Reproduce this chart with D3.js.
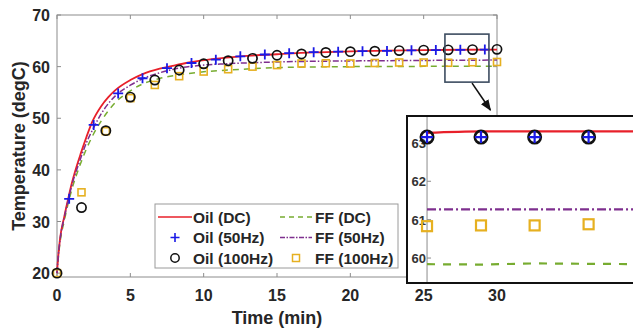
<!DOCTYPE html>
<html><head><meta charset="utf-8">
<script src="https://cdn.jsdelivr.net/npm/d3@7"></script>
<style>
html,body{margin:0;padding:0;background:#fff;}
svg{display:block;font-family:"Liberation Sans",Arial,sans-serif;}
</style></head>
<body><svg id="c" width="633" height="329"></svg>
<script>
// ---------- data ----------
const xTicks = [0, 5, 10, 15, 20, 25, 30];
const yTicks = [20, 30, 40, 50, 60, 70];

const tOilDC = [0,0.05,0.2,0.5,0.77,1.0,1.34,1.6,2.0,2.4,3.0,3.5,4.0,5.0,5.8,7.0,7.8,9.0,10.7,12.5,15,17.5,20,22.5,25,27.5,30];
const oilDC  = [20,22,26.5,31,34.5,37.3,40.7,43.0,46.3,49.3,52.3,54.1,55.5,57.4,58.5,59.6,60.1,60.8,61.5,62.0,62.4,62.75,62.95,63.1,63.2,63.27,63.3];

const tFF50 = [0,0.05,0.2,0.5,0.77,1.0,1.5,2.0,2.5,3.0,4.0,5.0,5.8,7,8.3,10,11.5,13.2,15,16.6,20,25,30];
const ff50  = [20,22,26.3,30.8,34.2,36.9,41.3,45.2,48.2,50.8,54.4,56.4,57.6,58.8,59.7,60.3,60.55,60.75,60.9,61.0,61.1,61.2,61.27];

const tFFDC = [0,0.05,0.2,0.5,0.77,1,1.5,2,2.5,3,4,5,5.8,7,8.3,10,12.4,15.6,20,25,30];
const ffDC  = [20,21.8,25.8,30.2,33.6,36.1,40.4,44.0,47.0,49.4,53.1,55.3,56.6,57.7,58.4,59.0,59.45,59.85,60.0,60.05,60.1];

const tCircle = [0,1.67,3.33,5,6.67,8.33,10,11.67,13.33,15,16.67,18.33,20,21.67,23.33,25,26.67,28.33,30];
const oil100  = [20,32.7,47.6,54.1,57.4,59.35,60.55,61.15,61.6,62.2,62.45,62.75,62.9,63.0,63.1,63.2,63.25,63.3,63.35];
const ff100   = [20,35.65,47.5,53.9,56.45,58.15,59.05,59.5,60.0,60.3,60.6,60.65,60.6,60.7,60.8,60.8,60.75,60.85,60.9];

const tPlus = [0.83,2.5,4.17,5.83,7.5,9.17,10.83,12.5,14.17,15.83,17.5,19.17,20.83,22.5,24.17,25.83,27.5,29.17];
const oil50 = [34.4,48.7,54.8,57.75,59.7,60.7,61.35,62.0,62.35,62.6,62.8,62.9,63.0,63.05,63.15,63.2,63.25,63.3];

// zoom box (data units) and arrow
const zoomBoxT = [26.45, 29.45];
const zoomBoxY = [57.0, 66.3];
const arrowT = [28.3, 29.55];
const arrowY = [56.8, 51.6];

// inset data
const insetYTicks = [60, 61, 62, 63];
const insetLineT = [25, 26.67, 28.33, 30, 31.67, 33.33];
const insetOilDC = [63.26, 63.3, 63.3, 63.3, 63.3, 63.3];
const insetFF50  = [61.27, 61.27, 61.27, 61.27, 61.27, 61.27];
const insetFFDC  = [59.84, 59.83, 59.86, 59.85, 59.84, 59.85];
const insetMarkT = [25, 26.67, 28.33, 30];
const insetOil100 = [63.15, 63.15, 63.15, 63.15];
const insetOil50  = [63.15, 63.15, 63.15, 63.15];
const insetFF100  = [60.83, 60.85, 60.85, 60.88];

const legendItems = [
  {label:"Oil (DC)", type:"line", color:"#e8202a", dash:null},
  {label:"Oil (50Hz)", type:"plus", color:"#1a1ae6"},
  {label:"Oil (100Hz)", type:"circle", color:"#111"},
  {label:"FF (DC)", type:"line", color:"#77ac30", dash:"5,4"},
  {label:"FF (50Hz)", type:"line", color:"#7e2f8e", dash:"5,1.5,1.5,1.5"},
  {label:"FF (100Hz)", type:"square", color:"#e6b020"}
];

// ---------- drawing ----------
const C = {red:"#e8202a", blue:"#1a1ae6", green:"#77ac30", purple:"#7e2f8e", gold:"#e6b020", axis:"#8c8c8c", text:"#262626"};
const svg = d3.select("#c");
const L = 57, R = 497, T = 15, B = 277;
const x = d3.scaleLinear().domain([0, 30]).range([L, R]);
const y = d3.scaleLinear().domain([19.25, 70]).range([B, T]);

const zip = (a, b) => a.map((v, i) => [v, b[i]]);
const line = (sx, sy) => d3.line().x(d => sx(d[0])).y(d => sy(d[1])).curve(d3.curveMonotoneX);

// axes box
const ax = svg.append("g");
ax.append("rect").attr("x", L).attr("y", T).attr("width", R - L).attr("height", B - T)
  .attr("fill", "none").attr("stroke", C.axis).attr("stroke-width", 1);
xTicks.forEach(t => {
  ax.append("line").attr("x1", x(t)).attr("x2", x(t)).attr("y1", B).attr("y2", B - 4).attr("stroke", C.axis);
  ax.append("line").attr("x1", x(t)).attr("x2", x(t)).attr("y1", T).attr("y2", T + 4).attr("stroke", C.axis);
  ax.append("text").attr("x", x(t)).attr("y", 301).attr("text-anchor", "middle")
    .attr("font-size", 16).attr("font-weight", "bold").attr("fill", C.text).text(t);
});
yTicks.forEach(v => {
  ax.append("line").attr("x1", L).attr("x2", L + 4).attr("y1", y(v)).attr("y2", y(v)).attr("stroke", C.axis);
  ax.append("line").attr("x1", R).attr("x2", R - 4).attr("y1", y(v)).attr("y2", y(v)).attr("stroke", C.axis);
  ax.append("text").attr("x", 50).attr("y", y(v) + 6).attr("text-anchor", "end")
    .attr("font-size", 16).attr("font-weight", "bold").attr("fill", C.text).text(v);
});
svg.append("text").attr("x", 277).attr("y", 324).attr("text-anchor", "middle")
  .attr("font-size", 18).attr("font-weight", "bold").attr("fill", C.text).text("Time (min)");
svg.append("text").attr("transform", "translate(25,146) rotate(-90)").attr("text-anchor", "middle")
  .attr("font-size", 18).attr("font-weight", "bold").attr("fill", C.text).text("Temperature (degC)");

// lines
const pg = svg.append("g");
pg.append("path").attr("d", line(x, y)(zip(tFFDC, ffDC))).attr("fill", "none").attr("stroke", C.green).attr("stroke-width", 1.5).attr("stroke-dasharray", "6,5");
pg.append("path").attr("d", line(x, y)(zip(tOilDC, oilDC))).attr("fill", "none").attr("stroke", C.red).attr("stroke-width", 1.8);
pg.append("path").attr("d", line(x, y)(zip(tFF50, ff50))).attr("fill", "none").attr("stroke", C.purple).attr("stroke-width", 1.5).attr("stroke-dasharray", "6,2,1.5,2");

// markers
function square(g, cx, cy, s, col, w) {
  g.append("rect").attr("x", cx - s / 2).attr("y", cy - s / 2).attr("width", s).attr("height", s)
    .attr("fill", "none").attr("stroke", col).attr("stroke-width", w);
}
function circle(g, cx, cy, r, col, w) {
  g.append("circle").attr("cx", cx).attr("cy", cy).attr("r", r).attr("fill", "none").attr("stroke", col).attr("stroke-width", w);
}
function plus(g, cx, cy, a, col, w) {
  g.append("path").attr("d", `M${cx - a},${cy}H${cx + a}M${cx},${cy - a}V${cy + a}`).attr("stroke", col).attr("stroke-width", w).attr("fill", "none");
}
tCircle.forEach((t, i) => square(pg, x(t), y(ff100[i]), 7, C.gold, 1.6));
tCircle.forEach((t, i) => circle(pg, x(t), y(oil100[i]), 4.6, "#111", 1.7));
tPlus.forEach((t, i) => plus(pg, x(t), y(oil50[i]), 5, C.blue, 1.8));

// zoom box and arrow
svg.append("rect").attr("x", x(zoomBoxT[0])).attr("y", y(zoomBoxY[1]))
  .attr("width", x(zoomBoxT[1]) - x(zoomBoxT[0])).attr("height", y(zoomBoxY[0]) - y(zoomBoxY[1]))
  .attr("fill", "none").attr("stroke", "#3c4c60").attr("stroke-width", 1.6);
svg.append("defs").append("marker").attr("id", "ah").attr("viewBox", "0 0 10 10").attr("refX", 9).attr("refY", 5)
  .attr("markerWidth", 7).attr("markerHeight", 7).attr("orient", "auto")
  .append("path").attr("d", "M0,1L10,5L0,9Z").attr("fill", "#111");
svg.append("line").attr("x1", x(arrowT[0])).attr("y1", y(arrowY[0])).attr("x2", x(arrowT[1])).attr("y2", y(arrowY[1]))
  .attr("stroke", "#111").attr("stroke-width", 1.6).attr("marker-end", "url(#ah)");

// legend
const lg = svg.append("g");
lg.append("rect").attr("x", 155).attr("y", 204).attr("width", 243).attr("height", 64)
  .attr("fill", "#fff").attr("stroke", "#9a9a9a").attr("stroke-width", 1);
legendItems.forEach((d, i) => {
  const col = Math.floor(i / 3), row = i % 3;
  const sx0 = col === 0 ? 158 : 280, sx1 = col === 0 ? 192 : 312;
  const tx = col === 0 ? 193 : 315;
  const cy = 217 + row * 20.5;
  const mx = (sx0 + sx1) / 2;
  if (d.type === "line") {
    const l = lg.append("line").attr("x1", sx0).attr("x2", sx1).attr("y1", cy).attr("y2", cy).attr("stroke", d.color).attr("stroke-width", 1.6);
    if (d.dash) l.attr("stroke-dasharray", d.dash);
  } else if (d.type === "plus") plus(lg, mx, cy, 4.5, d.color, 1.6);
  else if (d.type === "circle") circle(lg, mx, cy, 4.2, d.color, 1.5);
  else square(lg, mx, cy, 7, d.color, 1.5);
  lg.append("text").attr("x", tx).attr("y", cy + 5.5).attr("font-size", 15.5).attr("font-weight", "bold")
    .attr("fill", C.text).text(d.label);
});

// inset
const IL = 407, IR = 650, IT = 116, IB = 283;
const xi = d3.scaleLinear().domain([24.38, 31.9]).range([IL, IR]);
const yi = d3.scaleLinear().domain([59.35, 63.7]).range([IB, IT]);
const ig = svg.append("g");
ig.append("defs").append("clipPath").attr("id", "ic").append("rect")
  .attr("x", IL).attr("y", IT).attr("width", IR - IL).attr("height", IB - IT);
ig.append("rect").attr("x", IL).attr("y", IT).attr("width", IR - IL).attr("height", IB - IT).attr("fill", "#fff");
ig.append("line").attr("x1", xi(25)).attr("x2", xi(25)).attr("y1", IT).attr("y2", IB).attr("stroke", C.axis).attr("stroke-width", 1);
insetYTicks.forEach(v => {
  ig.append("line").attr("x1", xi(25)).attr("x2", xi(25) + 4).attr("y1", yi(v)).attr("y2", yi(v)).attr("stroke", C.axis);
  ig.append("text").attr("x", xi(25) - 1).attr("y", yi(v) + 5).attr("text-anchor", "end")
    .attr("font-size", 13).attr("font-weight", "bold").attr("fill", "#333").text(v);
});
const ic = ig.append("g").attr("clip-path", "url(#ic)");
const lin = d3.line().x(d => xi(d[0])).y(d => yi(d[1]));
ic.append("path").attr("d", lin(zip(insetLineT, insetFFDC))).attr("fill", "none").attr("stroke", C.green).attr("stroke-width", 2.2).attr("stroke-dasharray", "8,8");
ic.append("path").attr("d", lin(zip(insetLineT, insetFF50))).attr("fill", "none").attr("stroke", C.purple).attr("stroke-width", 2.2).attr("stroke-dasharray", "9,3,2,3");
ic.append("path").attr("d", d3.line().x(d => xi(d[0])).y(d => yi(d[1])).curve(d3.curveMonotoneX)(zip(insetLineT, insetOilDC))).attr("fill", "none").attr("stroke", C.red).attr("stroke-width", 2.4);
insetMarkT.forEach((t, i) => square(ic, xi(t), yi(insetFF100[i]), 10, C.gold, 2.2));
insetMarkT.forEach((t, i) => circle(ic, xi(t), yi(insetOil100[i]), 6.2, "#111", 2.6));
insetMarkT.forEach((t, i) => plus(ic, xi(t), yi(insetOil50[i]), 6, C.blue, 2.2));
ig.append("rect").attr("x", IL).attr("y", IT).attr("width", IR - IL).attr("height", IB - IT)
  .attr("fill", "none").attr("stroke", "#111").attr("stroke-width", 2);
</script></body></html>
